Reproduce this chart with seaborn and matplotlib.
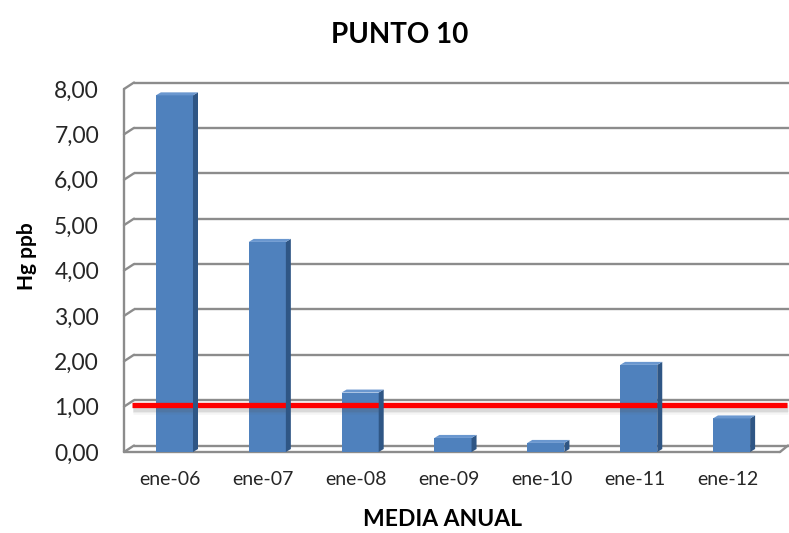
import numpy as np
import pandas as pd
import matplotlib
matplotlib.use("Agg")
import matplotlib.pyplot as plt
import seaborn as sns
from matplotlib.transforms import ScaledTranslation, IdentityTransform
from matplotlib.patches import Polygon
from matplotlib.lines import Line2D

# --- data -------------------------------------------------------------
periodos = ["ene-06", "ene-07", "ene-08", "ene-09", "ene-10", "ene-11", "ene-12"]
hg_ppb = [7.86, 4.63, 1.31, 0.31, 0.20, 1.92, 0.74]
limite = 1.0
y_ticks = [0, 1, 2, 3, 4, 5, 6, 7, 8]

titulo = "PUNTO 10"
eje_x = "MEDIA ANUAL"
eje_y = "Hg ppb"

# --- style ------------------------------------------------------------
sns.set_theme(style="white")
plt.rcParams["font.family"] = ["Lato", "DejaVu Sans"]

BLUE = "#4F81BD"
BLUE_SIDE = "#2F5685"
BLUE_TOP = "#6A97CF"
GRID = "#8C8C8C"

W, H, DPI = 789, 533, 100
fig = plt.figure(figsize=(W / DPI, H / DPI), dpi=DPI)
fig.patch.set_facecolor("white")

# front plane of the plot box in pixels
left_px, right_px, bottom_px, top_px = 124, 780, 452, 89
ax = fig.add_axes([left_px / W, 1 - bottom_px / H,
                   (right_px - left_px) / W, (bottom_px - top_px) / H])
ax.set_facecolor("none")

df = pd.DataFrame({"periodo": periodos, "hg": hg_ppb})
sns.barplot(data=df, x="periodo", y="hg", color=BLUE, saturation=1,
            width=0.40, errorbar=None, ax=ax, zorder=3, linewidth=0)

ax.set_xlim(-0.5, 6.565)
ax.set_ylim(0, 8)
for s in ax.spines.values():
    s.set_visible(False)

ax.set_yticks(y_ticks)
ax.set_yticklabels([f"{v:.2f}".replace(".", ",") for v in y_ticks],
                   fontsize=16.5, color="#262626")
ax.tick_params(axis="y", length=0, pad=18)
ax.set_xticks(range(len(periodos)))
ax.set_xticklabels(periodos, fontsize=14, color="#262626")
ax.tick_params(axis="x", length=0, pad=14)
ax.set_xlabel("")
ax.set_ylabel("")

# depth of the box (back wall offset) in pixels
DX, DY = 10, 6.5
back = ax.transData + ScaledTranslation(DX / DPI, DY / DPI, fig.dpi_scale_trans)
x0, x1 = ax.get_xlim()

# back wall gridlines
for v in y_ticks:
    ax.plot([x0, x1], [v, v], color=GRID, lw=1.7, transform=back,
            clip_on=False, zorder=1, solid_capstyle="butt")

# left wall: front edge and diagonals to the back wall
ax.plot([x0, x0], [0, 8], color=GRID, lw=1.7, clip_on=False, zorder=1)
fig.canvas.draw()
to_px = ax.transData.transform
for v in y_ticks:
    fx, fy = to_px((x0, v))
    fig.add_artist(Line2D([fx, fx + DX], [fy, fy + DY], color=GRID, lw=1.7,
                          transform=IdentityTransform(), zorder=1))
# floor: front edge and right diagonal
ax.plot([x0, x1], [0, 0], color=GRID, lw=1.7, clip_on=False, zorder=2)
fx, fy = to_px((x1, 0))
fig.add_artist(Line2D([fx, fx + DX - 2], [fy, fy + DY], color=GRID, lw=1.7,
                      transform=IdentityTransform(), zorder=1))

# bars sit slightly inside the box depth
BAR_DX = 4
bar_trans = ax.transData + ScaledTranslation(BAR_DX / DPI, 0, fig.dpi_scale_trans)

# 3D faces of the bars (side and top), built from the drawn bars
SX, SY = 5, 3
for p in ax.patches:
    p.set_transform(bar_trans)
    bx, by = p.get_x(), p.get_y()
    bw, bh = p.get_width(), p.get_height()
    (ax0, ay0) = bar_trans.transform((bx, by))
    (ax1, ay1) = bar_trans.transform((bx + bw, by + bh))
    side = Polygon([(ax1, ay0), (ax1, ay1), (ax1 + SX, ay1 + SY), (ax1 + SX, ay0 + SY)],
                   closed=True, facecolor=BLUE_SIDE, edgecolor="none",
                   transform=IdentityTransform(), zorder=4)
    top = Polygon([(ax0, ay1), (ax1, ay1), (ax1 + SX, ay1 + SY), (ax0 + SX, ay1 + SY)],
                  closed=True, facecolor=BLUE_TOP, edgecolor="none",
                  transform=IdentityTransform(), zorder=4)
    fig.add_artist(side)
    fig.add_artist(top)

# limit line with soft shadow
mid = ax.transData + ScaledTranslation(8 / DPI, 2 / DPI, fig.dpi_scale_trans)
shadow = ax.transData + ScaledTranslation(9 / DPI, -1.5 / DPI, fig.dpi_scale_trans)
for lw, a in [(9, 0.06), (7, 0.08), (5, 0.10)]:
    ax.plot([x0, x1 - 0.01], [limite, limite], color="#555555", lw=lw, alpha=a,
            transform=shadow, clip_on=False, zorder=5, solid_capstyle="butt")
ax.plot([x0, x1 - 0.01], [limite, limite], color="#FF0000", lw=3.8,
        transform=mid, clip_on=False, zorder=6, solid_capstyle="butt")

# texts
fig.text(400 / W, 1 - 35 / H, titulo, ha="center", va="center",
         fontsize=20, fontweight="bold", color="black")
fig.text(442 / W, 1 - 519 / H, eje_x, ha="center", va="center",
         fontsize=16.5, fontweight="bold", color="black")
fig.text(27 / W, 1 - 256 / H, eje_y, ha="center", va="center", rotation=90,
         fontsize=15, fontweight="bold", color="black")

fig.savefig("out.png", dpi=DPI, facecolor="white")
